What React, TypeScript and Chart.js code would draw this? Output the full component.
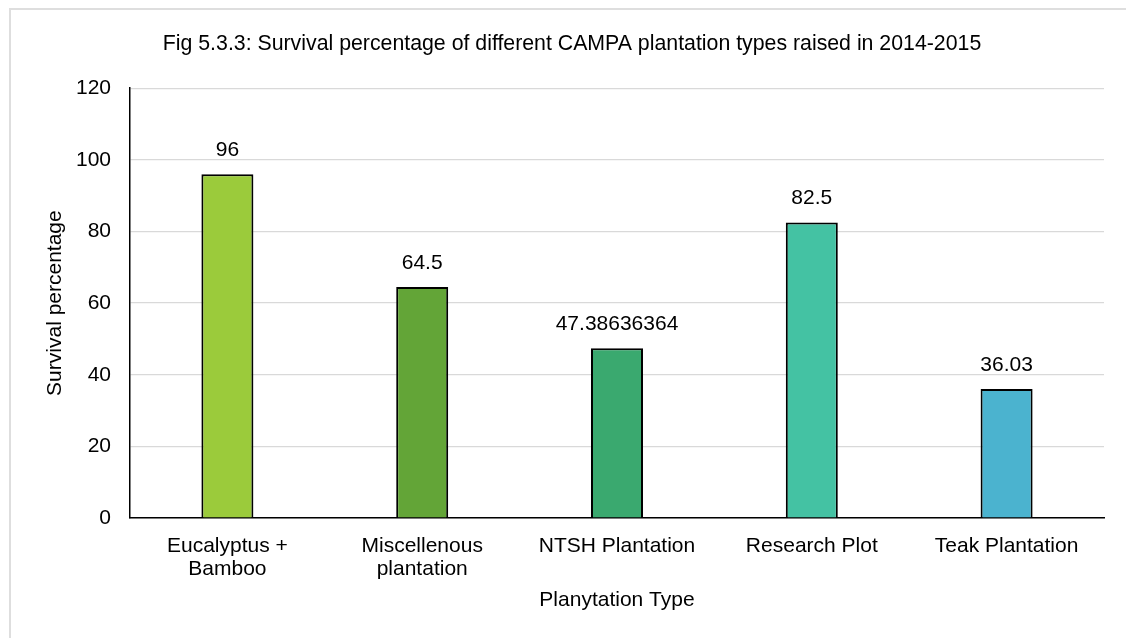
import React, { useEffect, useRef } from "react";
import { Chart, registerables } from "chart.js";

Chart.register(...registerables);

const TITLE = "Fig 5.3.3: Survival percentage of different CAMPA plantation types raised in 2014-2015";
const categories: (string | string[])[] = [
  ["Eucalyptus +", "Bamboo"],
  ["Miscellenous", "plantation"],
  "NTSH Plantation",
  "Research Plot",
  "Teak Plantation",
];
const survival = [96, 64.5, 47.38636364, 82.5, 36.03];
const barColors = ["#9BCB3B", "#63A537", "#3AA96F", "#44C2A3", "#4BB3CF"];
const yTicks = [0, 20, 40, 60, 80, 100, 120];
const yTitle = "Survival percentage";
const xTitle = "Planytation Type";

const FONT = "'Liberation Sans', Arial, sans-serif";
const FS = 21;

const valueLabels = {
  id: "valueLabels",
  afterDatasetsDraw(chart: any) {
    const ctx = chart.ctx;
    const meta = chart.getDatasetMeta(0);
    ctx.save();
    ctx.font = `${FS}px ${FONT}`;
    ctx.fillStyle = "#000";
    ctx.textAlign = "center";
    ctx.textBaseline = "middle";
    meta.data.forEach((el: any, i: number) => {
      const v = chart.data.datasets[0].data[i];
      ctx.fillText(String(v), el.x, el.y - 24);
    });
    ctx.restore();
  },
};

export default function App() {
  const ref = useRef<HTMLCanvasElement | null>(null);
  useEffect(() => {
    if (!ref.current) return;
    const chart = new Chart(ref.current, {
      type: "bar",
      data: {
        labels: categories,
        datasets: [
          {
            data: survival,
            backgroundColor: barColors,
            borderColor: "#000",
            borderWidth: 2,
            barPercentage: 0.267,
            categoryPercentage: 1,
          },
        ],
      },
      options: {
        animation: false,
        responsive: false,
        devicePixelRatio: 1,
        layout: { padding: { left: 40, right: 22, top: 0, bottom: 0 } },
        plugins: {
          legend: { display: false },
          tooltip: { enabled: false },
          title: {
            display: true,
            text: TITLE,
            color: "#000",
            font: { family: FONT, size: 21.3, weight: "normal", lineHeight: 1.2 },
            padding: { top: 31.6, bottom: 31 },
          },
        },
        scales: {
          x: {
            grid: { display: false, drawTicks: false },
            border: { display: true, color: "#000", width: 1.5 },
            ticks: {
              color: "#000",
              font: { family: FONT, size: FS, lineHeight: 1.13 },
              padding: 16,
              maxRotation: 0,
              autoSkip: false,
            },
            title: {
              display: true,
              text: xTitle,
              color: "#000",
              font: { family: FONT, size: FS, lineHeight: 1.2 },
              padding: { top: 0, bottom: 25 },
            },
            afterFit(scale: any) {
              scale.height = 120;
            },
          },
          y: {
            min: 0,
            max: 120,
            afterBuildTicks(scale: any) {
              scale.ticks = yTicks.map((v) => ({ value: v }));
            },
            grid: { color: "#d9d9d9", lineWidth: 1.2, drawTicks: false },
            border: { display: true, color: "#000", width: 1.5 },
            ticks: {
              color: "#000",
              font: { family: FONT, size: FS },
              padding: 19,
            },
            title: {
              display: true,
              text: yTitle,
              color: "#000",
              font: { family: FONT, size: FS, lineHeight: 1.2 },
              padding: { top: 2.4, bottom: 0 },
            },
            afterFit(scale: any) {
              scale.width = 90;
            },
          },
        },
      },
      plugins: [valueLabels],
    });
    return () => chart.destroy();
  }, []);

  return (
    <div style={{ position: "fixed", left: 0, top: 0, width: 1126, height: 638, background: "#fff" }}>
      <div
        style={{
          position: "absolute",
          left: 9,
          top: 8,
          width: 1130,
          height: 640,
          border: "2px solid #dedede",
          boxSizing: "border-box",
        }}
      />
      <canvas
        ref={ref}
        width={1126}
        height={638}
        style={{ position: "absolute", left: 0, top: 0, width: 1126, height: 638 }}
      />
    </div>
  );
}
